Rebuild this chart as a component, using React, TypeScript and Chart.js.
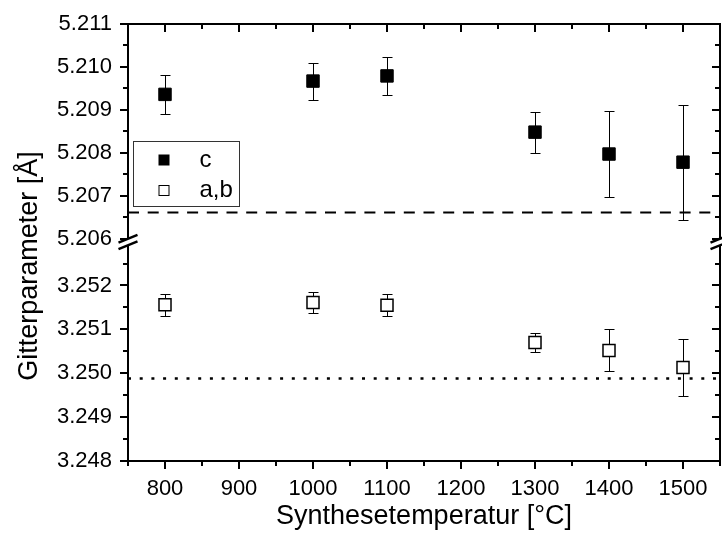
import React, { useEffect, useRef } from 'react';
import { Chart, registerables } from 'chart.js';

Chart.register(...registerables);

// ---- data ----
const temperatures = [800, 1000, 1100, 1300, 1400, 1500];
const cValues = [5.20936, 5.20967, 5.20979, 5.20848, 5.20797, 5.20778];
const cErrors = [0.00046, 0.00043, 0.00044, 0.00048, 0.001, 0.00134];
const abValues = [3.25156, 3.25161, 3.25155, 3.2507, 3.25052, 3.25013];
const abErrors = [0.00025, 0.00024, 0.00025, 0.00022, 0.00048, 0.00066];
const cReference = 5.20661;
const abReference = 3.24988;

const seriesLabels = ['c', 'a,b'];
const xTitle = 'Synthesetemperatur [°C]';
const yTitle = 'Gitterparameter [Å]';

const xTicks = [750, 800, 850, 900, 950, 1000, 1050, 1100, 1150, 1200, 1250, 1300, 1350, 1400, 1450, 1500, 1550];
const xLabelled = [800, 900, 1000, 1100, 1200, 1300, 1400, 1500];
const upperTicks = [5.206, 5.2065, 5.207, 5.2075, 5.208, 5.2085, 5.209, 5.2095, 5.21, 5.2105, 5.211];
const lowerTicks = [3.248, 3.2485, 3.249, 3.2495, 3.25, 3.2505, 3.251, 3.2515, 3.252, 3.2525];
const upperRange = [5.20592, 5.211];
const lowerRange = [3.248, 3.25299];
const xRange = [750, 1550];

const FONT = '"Liberation Sans", Arial, sans-serif';

const isMajorY = (v: number) => Math.round(v * 2000) % 2 === 0;

const errorBarPlugin = {
  id: 'errorBars',
  beforeDatasetsDraw(chart: any) {
    const ctx = chart.ctx;
    const xs = chart.scales.x;
    const series: [number[], number[], string][] = [
      [cValues, cErrors, 'yHi'],
      [abValues, abErrors, 'yLo'],
    ];
    ctx.save();
    ctx.strokeStyle = '#000';
    ctx.lineWidth = 1;
    series.forEach(([vals, errs, id]) => {
      const s = chart.scales[id];
      vals.forEach((v, i) => {
        const px = Math.round(xs.getPixelForValue(temperatures[i])) + 0.5;
        const y1 = Math.round(s.getPixelForValue(v + errs[i])) + 0.5;
        const y2 = Math.round(s.getPixelForValue(v - errs[i])) + 0.5;
        ctx.beginPath();
        ctx.moveTo(px, y1);
        ctx.lineTo(px, y2);
        ctx.moveTo(px - 5, y1);
        ctx.lineTo(px + 5, y1);
        ctx.moveTo(px - 5, y2);
        ctx.lineTo(px + 5, y2);
        ctx.stroke();
      });
    });
    ctx.restore();
  },
};

const framePlugin = {
  id: 'frame',
  afterDraw(chart: any) {
    const ctx = chart.ctx;
    const { left, right, top, bottom } = chart.chartArea;
    const xs = chart.scales.x;
    ctx.save();
    ctx.strokeStyle = '#000';
    ctx.lineWidth = 2;
    ctx.lineCap = 'butt';
    ctx.beginPath();
    ctx.rect(left, top, right - left, bottom - top);
    ctx.stroke();
    ctx.beginPath();
    xs.ticks.forEach((t: any) => {
      const px = Math.round(xs.getPixelForValue(t.value));
      const len = t.value % 100 === 0 ? 8 : 5;
      ctx.moveTo(px, bottom);
      ctx.lineTo(px, bottom + len);
      ctx.moveTo(px, top);
      ctx.lineTo(px, top + len);
    });
    ['yHi', 'yLo'].forEach((id) => {
      const s = chart.scales[id];
      s.ticks.forEach((t: any) => {
        const py = Math.round(s.getPixelForValue(t.value));
        const len = isMajorY(t.value) ? 8 : 5;
        ctx.moveTo(left - len, py);
        ctx.lineTo(left, py);
        ctx.moveTo(right, py);
        ctx.lineTo(right - len, py);
      });
    });
    ctx.stroke();

    // axis break marks
    const by = chart.scales.yHi.bottom;
    [left, right].forEach((ax) => {
      const dx = 9.5;
      const dy = 3.9;
      const gap = 3.3;
      ctx.fillStyle = '#fff';
      ctx.beginPath();
      ctx.moveTo(ax - 3, by - gap + dy * 3 / dx);
      ctx.lineTo(ax + 3, by - gap - dy * 3 / dx);
      ctx.lineTo(ax + 3, by + gap - dy * 3 / dx);
      ctx.lineTo(ax - 3, by + gap + dy * 3 / dx);
      ctx.closePath();
      ctx.fill();
      ctx.lineWidth = 2.5;
      ctx.beginPath();
      ctx.moveTo(ax - dx, by - gap + dy);
      ctx.lineTo(ax + dx, by - gap - dy);
      ctx.moveTo(ax - dx, by + gap + dy);
      ctx.lineTo(ax + dx, by + gap - dy);
      ctx.stroke();
    });

    // y-axis title
    ctx.fillStyle = '#000';
    ctx.font = `27px ${FONT}`;
    ctx.textAlign = 'center';
    ctx.textBaseline = 'alphabetic';
    ctx.translate(37, 266);
    ctx.rotate(-Math.PI / 2);
    ctx.fillText(yTitle, 0, 0);
    ctx.restore();
  },
};

const legendPlugin = {
  id: 'boxLegend',
  afterDraw(chart: any) {
    const ctx = chart.ctx;
    const { left, top } = chart.chartArea;
    const bx = left + 5.5;
    const byTop = top + 117.5;
    ctx.save();
    ctx.fillStyle = '#fff';
    ctx.fillRect(bx, byTop, 106, 65);
    ctx.strokeStyle = '#333';
    ctx.lineWidth = 1;
    ctx.strokeRect(bx, byTop, 106, 65);
    const rows = [
      { label: chart.data.datasets[0].label, fill: '#000', y: byTop + 18.5 },
      { label: chart.data.datasets[1].label, fill: '#fff', y: byTop + 49 },
    ];
    rows.forEach((r) => {
      ctx.fillStyle = r.fill;
      ctx.fillRect(bx + 25.5, r.y - 5, 10, 10);
      ctx.strokeStyle = '#000';
      ctx.lineWidth = 1;
      ctx.strokeRect(bx + 25.5, r.y - 5, 10, 10);
      ctx.fillStyle = '#000';
      ctx.font = `24px ${FONT}`;
      ctx.textAlign = 'left';
      ctx.textBaseline = 'middle';
      ctx.fillText(r.label, bx + 66, r.y);
    });
    ctx.restore();
  },
};

export default function App() {
  const canvasRef = useRef<HTMLCanvasElement | null>(null);

  useEffect(() => {
    if (!canvasRef.current) return;
    const tickFont = { family: FONT, size: 22 };
    const yFit = (s: any) => {
      s.width = 128;
      s.paddingTop = 0;
      s.paddingBottom = 0;
    };
    const chart = new Chart(canvasRef.current, {
      type: 'scatter',
      data: {
        datasets: [
          {
            label: seriesLabels[0],
            data: temperatures.map((t, i) => ({ x: t, y: cValues[i] })),
            xAxisID: 'x',
            yAxisID: 'yHi',
            pointStyle: 'rect',
            pointRadius: 8.8,
            backgroundColor: '#000',
            borderColor: '#000',
            borderWidth: 1,
          },
          {
            label: seriesLabels[1],
            data: temperatures.map((t, i) => ({ x: t, y: abValues[i] })),
            xAxisID: 'x',
            yAxisID: 'yLo',
            pointStyle: 'rect',
            pointRadius: 8.5,
            backgroundColor: '#fff',
            borderColor: '#000',
            borderWidth: 1.5,
          },
          {
            label: 'c ref',
            type: 'line',
            data: xRange.map((x) => ({ x, y: cReference })),
            xAxisID: 'x',
            yAxisID: 'yHi',
            showLine: true,
            borderColor: '#000',
            borderWidth: 2,
            borderDash: [11, 8.7],
            pointRadius: 0,
            fill: false,
          },
          {
            label: 'a,b ref',
            type: 'line',
            data: xRange.map((x) => ({ x, y: abReference })),
            xAxisID: 'x',
            yAxisID: 'yLo',
            showLine: true,
            borderColor: '#000',
            borderWidth: 2.5,
            borderDash: [3, 8.7],
            pointRadius: 0,
            fill: false,
          },
        ],
      } as any,
      options: {
        animation: false,
        responsive: false,
        devicePixelRatio: 1,
        events: [],
        layout: { autoPadding: false, padding: { top: 24, right: 2, left: 0, bottom: 0 } },
        plugins: {
          legend: { display: false },
          tooltip: { enabled: false },
        },
        scales: {
          x: {
            type: 'linear',
            position: 'bottom',
            min: xRange[0],
            max: xRange[1],
            grid: { display: false, drawTicks: false },
            border: { display: false },
            afterBuildTicks: (s: any) => {
              s.ticks = xTicks.map((v) => ({ value: v }));
            },
            afterFit: (s: any) => {
              s.height = 83;
              s.paddingLeft = 0;
              s.paddingRight = 0;
            },
            ticks: {
              autoSkip: false,
              maxRotation: 0,
              minRotation: 0,
              padding: 15,
              color: '#000',
              font: tickFont,
              callback: (v: any) => (xLabelled.includes(Number(v)) ? String(v) : ''),
            },
            title: {
              display: true,
              text: xTitle,
              color: '#000',
              font: { family: FONT, size: 27 },
              padding: { top: 0, bottom: 11 },
            },
          },
          yLo: {
            type: 'linear',
            axis: 'y',
            position: 'left',
            stack: 'gitter',
            stackWeight: 219,
            weight: 1,
            min: lowerRange[0],
            max: lowerRange[1],
            grid: { display: false, drawTicks: false },
            border: { display: false },
            afterBuildTicks: (s: any) => {
              s.ticks = lowerTicks.map((v) => ({ value: v }));
            },
            afterFit: yFit,
            ticks: {
              autoSkip: false,
              padding: 16,
              color: '#000',
              font: tickFont,
              callback: (v: any) => (isMajorY(Number(v)) ? Number(v).toFixed(3) : ''),
            },
          },
          yHi: {
            type: 'linear',
            axis: 'y',
            position: 'left',
            stack: 'gitter',
            stackWeight: 218,
            weight: 2,
            min: upperRange[0],
            max: upperRange[1],
            grid: { display: false, drawTicks: false },
            border: { display: false },
            afterBuildTicks: (s: any) => {
              s.ticks = upperTicks.map((v) => ({ value: v }));
            },
            afterFit: yFit,
            ticks: {
              autoSkip: false,
              padding: 16,
              color: '#000',
              font: tickFont,
              callback: (v: any) => (isMajorY(Number(v)) ? Number(v).toFixed(3) : ''),
            },
          },
        },
      } as any,
      plugins: [errorBarPlugin, framePlugin, legendPlugin],
    });
    return () => chart.destroy();
  }, []);

  return (
    <div style={{ position: 'fixed', left: 0, top: 0, width: 722, height: 544, background: '#fff' }}>
      <canvas ref={canvasRef} width={722} height={544} style={{ display: 'block' }} />
    </div>
  );
}
